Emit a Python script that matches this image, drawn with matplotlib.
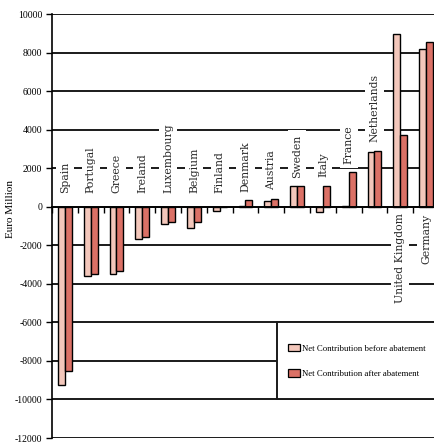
import matplotlib
matplotlib.use("Agg")
import matplotlib.pyplot as plt
import numpy as np
from matplotlib.patches import Rectangle, Patch

countries = ["Spain", "Portugal", "Greece", "Ireland", "Luxembourg", "Belgium",
             "Finland", "Denmark", "Austria", "Sweden", "Italy", "France",
             "Netherlands", "United Kingdom", "Germany"]
before = [-9250, -3620, -3500, -1680, -920, -1090, -220, 60, 300, 1050, -260, 60,
          2820, 8970, 8160]
after = [-8500, -3500, -3360, -1575, -815, -780, -40, 330, 400, 1050, 1090, 1780,
         2910, 3700, 8560]
yticks = list(range(-12000, 10001, 2000))
series_names = ["Net Contribution before abatement", "Net Contribution after abatement"]
c_before = "#F3C7BB"
c_after = "#DB7166"

fig = plt.figure(figsize=(4.35, 4.46), dpi=100)
ax = fig.add_axes([52/435, 1-438/446, 387/435, (438-14)/446])

x = np.arange(len(countries))
w = 0.27
ax.bar(x - w/2, before, w, color=c_before, edgecolor="black", linewidth=1.0, zorder=3)
ax.bar(x + w/2, after, w, color=c_after, edgecolor="black", linewidth=1.0, zorder=3)

ax.set_xlim(-0.5, len(countries) - 0.5)
ax.set_ylim(-12000, 10000)

for v in yticks:
    if v != 0:
        ax.axhline(v, color="#1a1a1a", lw=1.4, zorder=1)

for s in ["top", "right"]:
    ax.spines[s].set_visible(False)
ax.spines["bottom"].set_position(("data", 0))
ax.spines["bottom"].set_linewidth(1.4)
ax.spines["bottom"].set_zorder(4)
ax.spines["left"].set_linewidth(1.2)

ax.set_xticks([])
ax.set_xticks(np.arange(-0.5, len(countries), 1.0), minor=True)
ax.tick_params(axis="x", which="minor", direction="out", length=4, width=1.0, labelbottom=False)
ax.set_yticks(yticks)
ax.set_yticklabels([str(v) for v in yticks], family="Liberation Serif", fontsize=7)
ax.tick_params(axis="y", direction="out", length=4, width=1.0, pad=3)

fig.text(0.023, 0.531, "Euro Million", rotation=90, ha="center", va="center",
         family="Liberation Serif", fontsize=8)

for i, name in enumerate(countries):
    top = max(0, before[i], after[i])
    if top > 5000:
        y, va = -350, "top"
    else:
        y, va = max(700, top + 450), "bottom"
    ax.text(i, y, name, rotation=90, ha="center", va=va, family="DejaVu Serif",
            fontsize=7.8, color="#2a2a2a", zorder=5,
            bbox=dict(facecolor="white", edgecolor="none", pad=3))

rect = Rectangle((0.581, -10000), 0.6, 4000, transform=ax.get_yaxis_transform(),
                 facecolor="white", edgecolor="#1a1a1a", lw=1.4, zorder=4, clip_on=False)
ax.add_patch(rect)

handles = [Patch(facecolor=c_before, edgecolor="black", linewidth=0.9),
           Patch(facecolor=c_after, edgecolor="black", linewidth=0.9)]
leg = fig.legend(handles, series_names, loc="center left",
                 bbox_to_anchor=(285/435, 1-361/446), frameon=False,
                 prop=dict(family="Liberation Serif", size=6.3),
                 handlelength=1.3, handleheight=0.9, labelspacing=1.9,
                 handletextpad=0.3, borderaxespad=0)
leg.set_zorder(6)

fig.savefig("out.png", dpi=100)
